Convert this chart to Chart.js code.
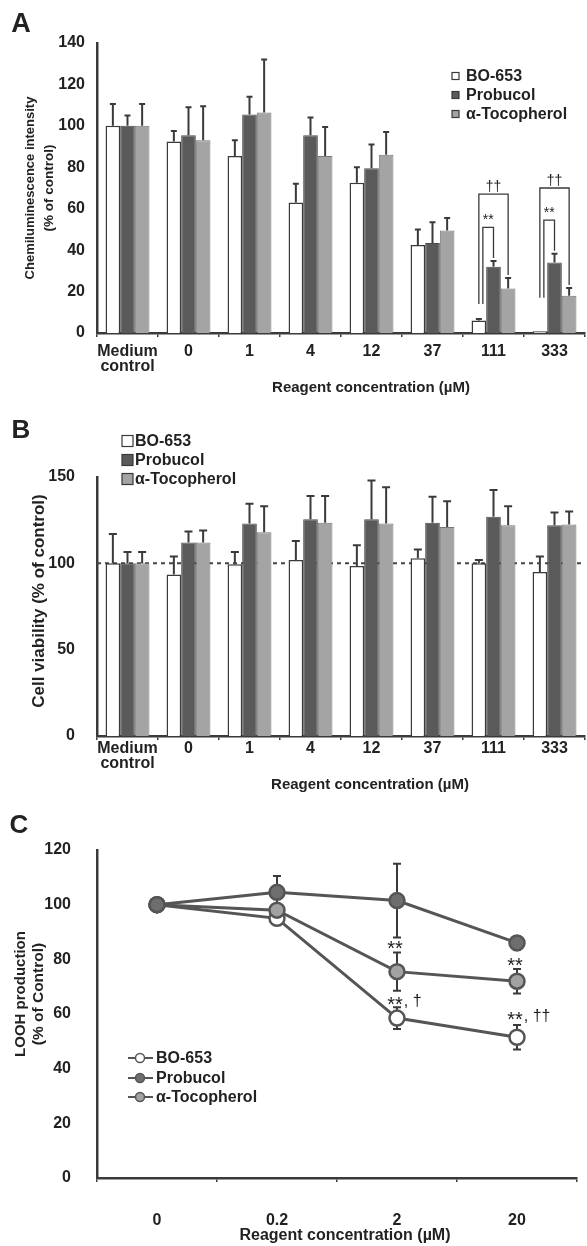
<!DOCTYPE html>
<html>
<head>
<meta charset="utf-8">
<title>BO-653, probucol and α-tocopherol</title>
<script src="https://cdn.jsdelivr.net/npm/chart.js@4.4.1/dist/chart.umd.min.js"></script>
<style>
  html, body { margin: 0; padding: 0; background: #fff; }
  #page { position: relative; width: 587px; height: 1246px; overflow: hidden; }
  canvas { position: absolute; left: 0; }
</style>
</head>
<body>
<div id="page">
  <canvas id="panelA" width="587" height="400" style="top:0px"></canvas>
  <canvas id="panelB" width="587" height="405" style="top:400px"></canvas>
  <canvas id="panelC" width="587" height="441" style="top:805px"></canvas>
</div>
<script>
const FONT = '"Liberation Sans", Arial, Helvetica, sans-serif';
const INK = '#3a3a3a';
const DARK = '#5a5a5a';
const LIGHT = '#a4a4a4';
const LINE = '#555';

// shared labels
const barCategories = [['Medium', 'control'], '0', '1', '4', '12', '37', '111', '333'];
const doseLabels = ['0', '0.2', '2', '20'];
const seriesNames = ['BO-653', 'Probucol', 'α-Tocopherol'];

// A: chemiluminescence intensity (% of control), mean and SD
const chemiBO = [100, 92.5, 85.5, 63, 72.5, 42.5, 6, 0.8];
const chemiBOErr = [10.5, 5, 7.5, 9, 7.5, 7.5, 0.7, 0];
const chemiProb = [100, 95.5, 105.5, 95.5, 79.5, 43.5, 32, 34];
const chemiProbErr = [5, 13.5, 8.5, 8.5, 11.5, 10, 2.7, 4.3];
const chemiToco = [100, 93, 106.5, 85.5, 86, 49.5, 21.5, 18];
const chemiTocoErr = [10.5, 16.5, 25.5, 14, 11, 6, 5, 3.7];
// significance brackets in A (category index, bar from/to, bracket level, left leg end)
const sigA = [
  { cat: 6, from: 0, to: 2, level: 67, legLow: 14, text: '††' },
  { cat: 6, from: 0, to: 1, level: 51, legLow: 14, text: '**' },
  { cat: 7, from: 0, to: 2, level: 70, legLow: 17, text: '††' },
  { cat: 7, from: 0, to: 1, level: 54.5, legLow: 17, text: '**' }
];

// B: cell viability (% of control), mean and SD
const viaBO = [100, 93.5, 99.5, 102, 98.5, 103, 100, 95];
const viaBOErr = [17, 10.5, 7, 11, 12, 5, 2, 9];
const viaProb = [100, 112, 123, 125.5, 125.5, 123.5, 127, 122];
const viaProbErr = [6.5, 6.5, 11.5, 13.5, 22.5, 15, 15.5, 7.5];
const viaToco = [100, 112, 118, 123.5, 123, 121, 122, 122.5];
const viaTocoErr = [6.5, 7, 15, 15.5, 21, 15, 11, 7.5];
const viaControl = 100;

// C: LOOH production (% of control), mean and SD
const loohBO = [100, 95, 58.5, 51.5];
const loohBOErr = [0, 2, 4, 4.5];
const loohProb = [100, 104.5, 101.5, 86];
const loohProbErr = [0, 6, 13.5, 2.5];
const loohToco = [100, 98, 75.5, 72];
const loohTocoErr = [0, 2, 7, 4.5];
const sigC = [
  { cat: 2, value: 85, text: '**', extra: '' },
  { cat: 2, value: 64.5, text: '**', extra: ', †' },
  { cat: 3, value: 79, text: '**', extra: '' },
  { cat: 3, value: 59, text: '**', extra: ', ††' }
];

function font(size, weight) {
  return (weight || 'bold') + ' ' + size + 'px ' + FONT;
}

function text(ctx, str, x, y, f, align, rot) {
  ctx.save();
  ctx.font = f;
  ctx.fillStyle = '#222';
  ctx.textAlign = align || 'center';
  ctx.textBaseline = 'middle';
  ctx.translate(x, y);
  if (rot) ctx.rotate(rot);
  ctx.fillText(str, 0, 0);
  ctx.restore();
}

// error bars read from dataset.err, drawn under the marks
const errorBars = {
  id: 'errorBars',
  beforeDatasetsDraw(chart, args, opts) {
    const { ctx } = chart;
    const y = chart.scales.y;
    ctx.save();
    ctx.strokeStyle = INK;
    ctx.lineWidth = opts.width;
    chart.data.datasets.forEach((ds, i) => {
      if (!ds.err) return;
      chart.getDatasetMeta(i).data.forEach((el, j) => {
        const e = ds.err[j];
        if (!e) return;
        const v = ds.data[j];
        const top = y.getPixelForValue(v + e);
        const bottom = opts.both ? y.getPixelForValue(v - e) : el.y;
        ctx.beginPath();
        ctx.moveTo(el.x, bottom);
        ctx.lineTo(el.x, top);
        ctx.moveTo(el.x - opts.cap, top);
        ctx.lineTo(el.x + opts.cap, top);
        if (opts.both) {
          ctx.moveTo(el.x - opts.cap, bottom);
          ctx.lineTo(el.x + opts.cap, bottom);
        }
        ctx.stroke();
      });
    });
    ctx.restore();
  }
};

function barSets(bo, prob, toco, boErr, probErr, tocoErr) {
  return [
    { label: seriesNames[0], data: bo, err: boErr, backgroundColor: '#fff', borderColor: INK, borderWidth: 1.5 },
    { label: seriesNames[1], data: prob, err: probErr, backgroundColor: DARK, borderColor: '#4a4a4a', borderWidth: 1 },
    { label: seriesNames[2], data: toco, err: tocoErr, backgroundColor: LIGHT, borderColor: '#777', borderWidth: 1 }
  ];
}

function barOptions(c) {
  return {
    responsive: false,
    animation: false,
    layout: { padding: { top: c.top, right: 2, left: 0, bottom: 0 } },
    datasets: { bar: { categoryPercentage: 0.72, barPercentage: 1 } },
    plugins: {
      legend: { display: false },
      tooltip: { enabled: false },
      errorBars: { width: 2, cap: c.cap, both: false }
    },
    scales: {
      x: {
        grid: { display: true, drawOnChartArea: false, offset: true, tickLength: 4, color: INK, lineWidth: 1.5 },
        border: { display: true, color: INK, width: 2.5 },
        ticks: {
          font: { family: FONT, size: 16, weight: 'bold', lineHeight: 0.95 },
          color: '#222', padding: c.xPad, maxRotation: 0, autoSkip: false
        },
        afterFit: s => { s.height = c.xHeight; }
      },
      y: {
        min: 0, max: c.max,
        grid: { display: false },
        border: { display: true, color: INK, width: 2.5 },
        ticks: { stepSize: c.step, font: { family: FONT, size: 16, weight: 'bold' }, color: '#222', padding: c.yPad },
        afterFit: s => { s.width = 97; }
      }
    }
  };
}

function drawBoxLegend(chart, x, ys, box, f) {
  const { ctx } = chart;
  chart.data.datasets.forEach((ds, i) => {
    ctx.save();
    ctx.fillStyle = ds.backgroundColor;
    ctx.strokeStyle = INK;
    ctx.lineWidth = 1.2;
    ctx.fillRect(x, ys[i] - box / 2, box, box);
    ctx.strokeRect(x, ys[i] - box / 2, box, box);
    ctx.restore();
    text(ctx, ds.label, x + box + (box > 8 ? 2 : 7), ys[i] + 1, f, 'left');
  });
}

// ---------- Panel A ----------
const panelA = {
  id: 'panelADecor',
  afterDraw(chart) {
    const { ctx } = chart;
    const y = chart.scales.y;
    text(ctx, 'A', 21, 25, font(27));
    text(ctx, 'Chemiluminescence intensity', 30, 188, font(13), 'center', -Math.PI / 2);
    text(ctx, '(% of control)', 49, 188, font(13.5), 'center', -Math.PI / 2);
    text(ctx, 'Reagent concentration (µM)', 371, 388, font(15));
    drawBoxLegend(chart, 452, [76, 95, 114], 7, font(16));

    // significance brackets
    ctx.save();
    ctx.strokeStyle = INK;
    ctx.lineWidth = 1.3;
    sigA.forEach(s => {
      const left = chart.getDatasetMeta(s.from).data[s.cat];
      const right = chart.getDatasetMeta(s.to).data[s.cat];
      const ds = chart.data.datasets[s.to];
      const xl = left.x + (s.to === 1 ? 4 : 0);
      const xr = right.x;
      const top = y.getPixelForValue(s.level);
      const rLow = y.getPixelForValue(ds.data[s.cat] + ds.err[s.cat]) - 3;
      ctx.beginPath();
      ctx.moveTo(xl, y.getPixelForValue(s.legLow));
      ctx.lineTo(xl, top);
      ctx.lineTo(xr, top);
      ctx.lineTo(xr, rLow);
      ctx.stroke();
      text(ctx, s.text, (xl + xr) / 2, top - 7, font(14, 'normal'));
    });
    ctx.restore();
  }
};

new Chart(document.getElementById('panelA'), {
  type: 'bar',
  data: { labels: barCategories, datasets: barSets(chemiBO, chemiProb, chemiToco, chemiBOErr, chemiProbErr, chemiTocoErr) },
  options: barOptions({ top: 43, max: 140, step: 20, xHeight: 67, xPad: 7, yPad: 4, cap: 3 }),
  plugins: [errorBars, panelA]
});

// ---------- Panel B ----------
const panelB = {
  id: 'panelBDecor',
  beforeDatasetsDraw(chart) {
    const { ctx, chartArea } = chart;
    const yy = chart.scales.y.getPixelForValue(viaControl);
    ctx.save();
    ctx.strokeStyle = '#444';
    ctx.lineWidth = 2;
    ctx.setLineDash([4, 4]);
    ctx.beginPath();
    ctx.moveTo(chartArea.left, yy);
    ctx.lineTo(chartArea.right, yy);
    ctx.stroke();
    ctx.restore();
  },
  afterDraw(chart) {
    const { ctx } = chart;
    text(ctx, 'B', 21, 31, font(26));
    text(ctx, 'Cell viability (% of control)', 39, 201, font(17), 'center', -Math.PI / 2);
    text(ctx, 'Reagent concentration (µM)', 370, 385, font(15));
    drawBoxLegend(chart, 122, [41, 60, 79], 11, font(16));
  }
};

new Chart(document.getElementById('panelB'), {
  type: 'bar',
  data: { labels: barCategories, datasets: barSets(viaBO, viaProb, viaToco, viaBOErr, viaProbErr, viaTocoErr) },
  options: barOptions({ top: 77, max: 150, step: 50, xHeight: 69, xPad: 1, yPad: 14, cap: 4 }),
  plugins: [errorBars, panelB]
});

// ---------- Panel C ----------
const panelC = {
  id: 'panelCDecor',
  afterDraw(chart) {
    const { ctx } = chart;
    const y = chart.scales.y;
    const x = chart.scales.x;
    text(ctx, 'C', 19, 21, font(26));
    text(ctx, 'LOOH production', 21, 189, font(15), 'center', -Math.PI / 2);
    text(ctx, '(% of Control)', 39, 189, font(15.5), 'center', -Math.PI / 2);
    text(ctx, 'Reagent concentration (µM)', 345, 431, font(16));

    // legend: line + marker
    [253, 273, 292].forEach((ly, i) => {
      const ds = chart.data.datasets[i];
      ctx.save();
      ctx.strokeStyle = LINE;
      ctx.lineWidth = 2;
      ctx.beginPath();
      ctx.moveTo(128, ly);
      ctx.lineTo(153, ly);
      ctx.stroke();
      ctx.beginPath();
      ctx.arc(140, ly, 4.5, 0, Math.PI * 2);
      ctx.fillStyle = ds.pointBackgroundColor;
      ctx.fill();
      ctx.lineWidth = 1.5;
      ctx.stroke();
      ctx.restore();
      text(ctx, ds.label, 156, ly + 1, font(16), 'left');
    });

    // significance marks
    sigC.forEach(s => {
      const px = x.getPixelForValue(s.cat);
      const py = y.getPixelForValue(s.value);
      ctx.save();
      ctx.font = font(20, 'normal');
      const w = ctx.measureText(s.text).width;
      ctx.restore();
      text(ctx, s.text, px - 2, py + 4, font(20, 'normal'));
      if (s.extra) text(ctx, s.extra, px - 2 + w / 2 + 1, py, font(16, 'normal'), 'left');
    });
  }
};

function lineSet(label, data, err, fill, order) {
  return {
    label, data, err, order,
    borderColor: LINE, borderWidth: 3,
    pointRadius: 7.5, pointBorderWidth: 2.5,
    pointBackgroundColor: fill, pointBorderColor: LINE
  };
}

new Chart(document.getElementById('panelC'), {
  type: 'line',
  data: {
    labels: doseLabels,
    datasets: [
      lineSet(seriesNames[0], loohBO, loohBOErr, '#fff', 2),
      lineSet(seriesNames[1], loohProb, loohProbErr, '#6e6e6e', 0),
      lineSet(seriesNames[2], loohToco, loohTocoErr, '#a2a2a2', 1)
    ]
  },
  options: {
    responsive: false,
    animation: false,
    layout: { padding: { top: 45, right: 4, left: 0, bottom: 0 } },
    plugins: {
      legend: { display: false },
      tooltip: { enabled: false },
      errorBars: { width: 2, cap: 4, both: true }
    },
    scales: {
      x: {
        offset: true,
        grid: { display: true, drawOnChartArea: false, offset: true, tickLength: 4, color: INK, lineWidth: 1.5 },
        border: { display: true, color: INK, width: 2.5 },
        ticks: { font: { family: FONT, size: 16, weight: 'bold' }, color: '#222', padding: 29, maxRotation: 0 },
        afterFit: s => { s.height = 68; }
      },
      y: {
        min: 0, max: 120,
        grid: { display: false },
        border: { display: true, color: INK, width: 2.5 },
        ticks: { stepSize: 20, font: { family: FONT, size: 16, weight: 'bold' }, color: '#222', padding: 18 },
        afterFit: s => { s.width = 97; }
      }
    }
  },
  plugins: [errorBars, panelC]
});
</script>
</body>
</html>
